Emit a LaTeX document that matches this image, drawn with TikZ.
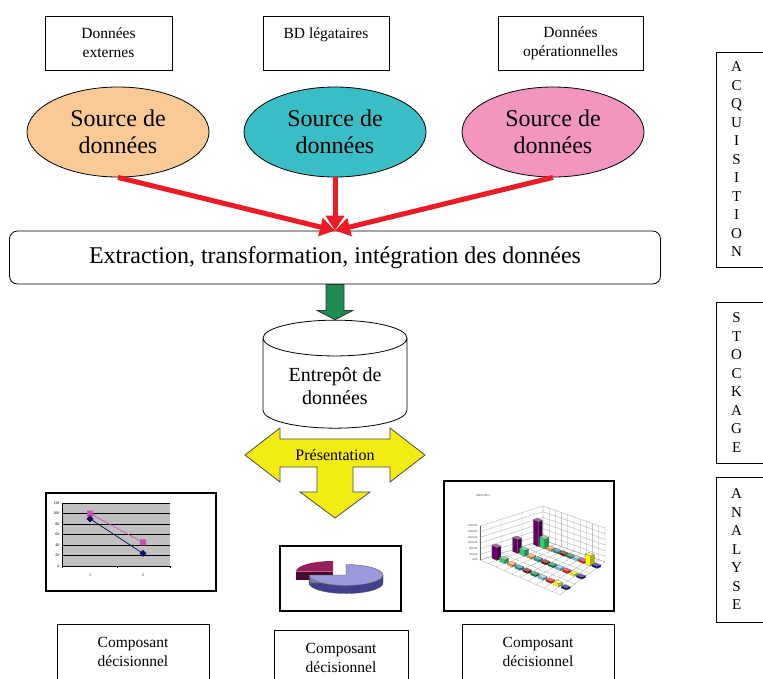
\documentclass[tikz,border=0pt]{standalone}
\usepackage{fontspec}
\setmainfont{Liberation Serif}
\usepackage{tikz}
\usetikzlibrary{arrows.meta,positioning,shapes.geometric,calc}
\tikzset{
  srcbox/.style ={draw, line width=0.8pt, align=center, minimum height=54pt,
                  minimum width=#1, font=\fontsize{15.5}{19}\selectfont, inner sep=2pt},
  srcbox/.default=127pt,
  srcell/.style ={draw, ellipse, line width=0.8pt, align=center,
                  minimum width=182pt, minimum height=90pt,
                  font=\fontsize{24}{27}\selectfont, inner sep=1pt},
  etlbox/.style ={draw, line width=0.8pt, rounded corners=8pt, fill=white,
                  minimum width=651pt, minimum height=53pt,
                  font=\fontsize{24}{27}\selectfont},
  dwcyl/.style  ={draw, cylinder, shape border rotate=90, aspect=0.36,
                  line width=0.8pt, fill=white, align=center,
                  minimum width=144pt, minimum height=108pt,
                  font=\fontsize{20}{23}\selectfont},
  redarr/.style ={draw=arrred, line width=5pt, -{Triangle[length=15pt,width=18pt]}},
  greenarr/.style={draw=black!80, line width=0.8pt, fill=dwgreen},
  yellowarr/.style={draw=black!70, line width=0.8pt, fill=presyellow},
  prestext/.style={font=\fontsize{16}{18}\selectfont, inner sep=0pt},
  chartframe/.style={draw, line width=1.2pt, fill=white},
  ticklbl/.style={font=\fontsize{4}{4}\selectfont, inner sep=0.5pt},
  barlbl/.style ={font=\fontsize{3}{3}\selectfont, inner sep=0.5pt, text=black!70},
  gridln/.style ={draw=black!35, line width=0.3pt},
  barface/.style={draw=black!60, line width=0.2pt},
  compbox/.style={draw, line width=0.8pt, align=center, minimum height=56pt,
                  minimum width=#1, font=\fontsize{15.5}{19}\selectfont},
  compbox/.default=152pt,
  phasebox/.style={draw, line width=0.8pt, minimum width=60pt},
  phasetext/.style={align=center, font=\fontsize{15}{18.5}\selectfont, inner sep=0pt},
}
\definecolor{srcorange}{RGB}{250,202,150}
\definecolor{srcteal}  {RGB}{56,190,196}
\definecolor{srcpink}  {RGB}{242,150,192}
\definecolor{arrred}   {RGB}{237,28,36}
\definecolor{dwgreen}  {RGB}{30,140,80}
\definecolor{presyellow}{RGB}{242,236,18}
\definecolor{plotgray} {RGB}{192,192,192}
\definecolor{serpink}  {RGB}{204,80,180}
\definecolor{sernavy}  {RGB}{10,10,100}
\definecolor{pietop}   {RGB}{153,153,220}
\definecolor{pieside}  {RGB}{64,64,140}
\definecolor{slicetop} {RGB}{150,30,90}
\definecolor{sliceside}{RGB}{70,10,45}
\definecolor{barc0}{RGB}{102,0,102}
\definecolor{barc1}{RGB}{51,204,102}
\definecolor{barc2}{RGB}{255,153,51}
\definecolor{barc3}{RGB}{0,153,153}
\definecolor{barc4}{RGB}{102,0,0}
\definecolor{barc5}{RGB}{0,128,64}
\definecolor{barc6}{RGB}{102,204,230}
\definecolor{barc7}{RGB}{255,0,0}
\definecolor{barc8}{RGB}{255,255,0}
\definecolor{barc9}{RGB}{0,0,128}

\begin{document}
\begin{tikzpicture}[x=1pt,y=-1pt]
  \useasboundingbox (0,0) rectangle (763,678);
  \node[srcbox=127pt] (extbox) at (108.5,43) {Données\\externes};
  \node[srcbox=126pt] (bdbox) at (326,43) {BD légataires\\\mbox{}};
  \node[srcbox=145pt] (opbox) at (570.5,43) {Données\\opérationnelles};
  \node[srcell, fill=srcorange] (srcA) at (118,132) {Source de\\données};
  \node[srcell, fill=srcteal] (srcB) at (335,132) {Source de\\données};
  \node[srcell, fill=srcpink] (srcC) at (553,132) {Source de\\données};
  \node[etlbox] (etl) at (335,257.5) {Extraction, transformation, intégration des données};
  \draw[redarr] (srcA.south) -- (etl.north);
  \draw[redarr] (srcB.south) -- (etl.north);
  \draw[redarr] (srcC.south) -- (etl.north);
  \node[dwcyl] (dw) at (335,386) {Entrepôt de\\données};
  \draw[greenarr] ($(etl.south)+(-9,0)$) -- ++(0,26) -- ++(-9,0) -- (dw.north)
    -- ($(etl.south)+(18,26)$) -- ++(-9,0) -- ++(0,-26) -- cycle;
  \coordinate (presc) at (335,455);
  \draw[yellowarr, shift={(presc)}] (-90,0) -- (-55,-27) -- (-55,-16) -- (55,-16)
    -- (55,-27) -- (90,0) -- (55,27) -- (55,12) -- (18,12) -- (18,37) -- (35,37)
    -- (0,63) -- (-35,37) -- (-18,37) -- (-18,12) -- (-55,12) -- (-55,27) -- cycle;
  \node[prestext] (pres) at (presc) {Présentation};
  % line chart
  \node[chartframe, minimum width=170pt, minimum height=98pt] (linechart) at (131,542) {};
  \fill[plotgray] (62,503) rectangle (170,566);
  \foreach \v [count=\k from 0] in {0,20,...,120} {
    \draw[line width=0.5pt] (62,{566-\k*10.5}) -- (170,{566-\k*10.5});
    \node[ticklbl, anchor=east] (ylab\k) at (60,{566-\k*10.5}) {\v};
  }
  \draw[line width=0.5pt] (62,503) -- (62,568) (117,566) -- (117,568) (170,566) -- (170,568);
  \node[ticklbl] (xlab1) at (90,575) {1};
  \node[ticklbl] (xlab2) at (143,575) {2};
  \draw[serpink, line width=0.7pt] (90,513.5) -- (143,542.4);
  \draw[sernavy, line width=0.7pt] (90,518.8) -- (143,553.4);
  \fill[serpink] (90,513.5) +(-3,-3) rectangle +(3,3) (143,542.4) +(-3,-3) rectangle +(3,3);
  \fill[sernavy] (90,518.8) +(-3.5,0) -- +(0,-3.5) -- +(3.5,0) -- +(0,3.5) -- cycle
    (143,553.4) +(-3.5,0) -- +(0,-3.5) -- +(3.5,0) -- +(0,3.5) -- cycle;
  % pie chart
  \node[chartframe, minimum width=121pt, minimum height=65pt] (piechart) at (340.5,578.5) {};
  \fill[sliceside] (333,571.5) -- (296,571.5) -- ++(0,8) -- (333,579.5) -- cycle;
  \fill[slicetop] (333,571.5) -- (333,561) arc (270:180:37 and 10.5) -- cycle;
  \filldraw[pieside, draw=black!70, line width=0.3pt] (383,575) arc (0:180:37 and 10.5) -- ++(0,8)
    arc (180:0:37 and 10.5) -- cycle;
  \filldraw[pietop!80!black, draw=black!70, line width=0.3pt] (346,575) -- (309,575) -- ++(0,8) -- (346,583) -- cycle;
  \filldraw[pietop, draw=black!70, line width=0.3pt] (346,575) -- (346,564.5) arc (-90:180:37 and 10.5) -- cycle;
  % bar chart
  \node[chartframe, minimum width=170pt, minimum height=130pt] (barchart) at (529,546) {};
  \node[barlbl] (mesures) at (483,496) {MESURES};
  \foreach \k in {0,...,6} {
    \draw[gridln] (480,{560-\k*34/6}) -- (543,{540-\k*34/6}) -- (605,{562-\k*34/6});
  }
  \foreach \j in {0,...,3} {
    \pgfmathsetmacro\ax{480+\j*63/3}  \pgfmathsetmacro\ay{560-\j*20/3}
    \pgfmathsetmacro\dx{560+\j*45/3}  \pgfmathsetmacro\dy{595-\j*33/3}
    \draw[gridln] (\ax,\ay) -- ++(0,-34) (\ax,\ay) -- (\dx,\dy);
  }
  \foreach \i in {0,...,10} {
    \pgfmathsetmacro\ax{480+\i*8}  \pgfmathsetmacro\ay{560+\i*3.5}
    \pgfmathsetmacro\bx{543+\i*6.2}  \pgfmathsetmacro\by{540+\i*2.2}
    \draw[gridln] (\bx,\by) -- ++(0,-34) (\ax,\ay) -- (\bx,\by);
  }
  \draw[line width=0.4pt, black!60] (480,526) -- (480,560);
  \foreach \v [count=\k from 0] in {{0,00},{400,00},{800,00},{1200,00},{1600,00},{2000,00},{2400,00}} {
    \node[barlbl, anchor=east] (blab\k) at (478,{560-\k*34/6}) {\v};
  }
  \foreach \r/\hl in {2/{25,10,2,2,2,2,2,2,10,2},1/{14,6,2,2,2,2,2,2,2,2},0/{13,4,2,2,2,2,2,2,3,2}} {
    \foreach \i in {0,...,9} {
      \pgfmathsetmacro\h{{\hl}[\i]}
      \pgfmathsetmacro\u{(\i+0.5)/10}
      \pgfmathsetmacro\v{(2*\r+1)/6}
      \pgfmathsetmacro\bx{(1-\v)*(480+80*\u)+\v*(543+62*\u)-2.5}
      \pgfmathsetmacro\by{(1-\v)*(560+35*\u)+\v*(540+22*\u)}
      \filldraw[barface, fill=barc\i] (\bx,\by) -- ++(5,2.1) -- ++(0,-\h) -- ++(-5,-2.1) -- cycle;
      \filldraw[barface, fill=barc\i!70!black] ({\bx+5},{\by+2.1}) -- ++(4,-1.5) -- ++(0,-\h) -- ++(-4,1.5) -- cycle;
      \filldraw[barface, fill=barc\i!60!white] (\bx,{\by-\h}) -- ++(5,2.1) -- ++(4,-1.5) -- ++(-5,-2.1) -- cycle;
    }
  }
  % decision components
  \node[compbox] (compA) at (133,652) {Composant\\décisionnel};
  \node[compbox=134pt] (compB) at (341,658) {Composant\\décisionnel};
  \node[compbox] (compC) at (538,652) {Composant\\décisionnel};
  % phases
  \node[phasebox, minimum height=215pt] (acq) at (746,159.5) {};
  \node[phasebox, minimum height=161pt] (stock) at (746,382.5) {};
  \node[phasebox, minimum height=145pt] (ana) at (746,549.5) {};
  \node[phasetext] (acqtxt) at ($(acq.west)+(21,0)$) {A\\C\\Q\\U\\I\\S\\I\\T\\I\\O\\N};
  \node[phasetext] (stocktxt) at ($(stock.west)+(21,0)$) {S\\T\\O\\C\\K\\A\\G\\E};
  \node[phasetext] (anatxt) at ($(ana.west)+(21,0)$) {A\\N\\A\\L\\Y\\S\\E};
\end{tikzpicture}
\end{document}
